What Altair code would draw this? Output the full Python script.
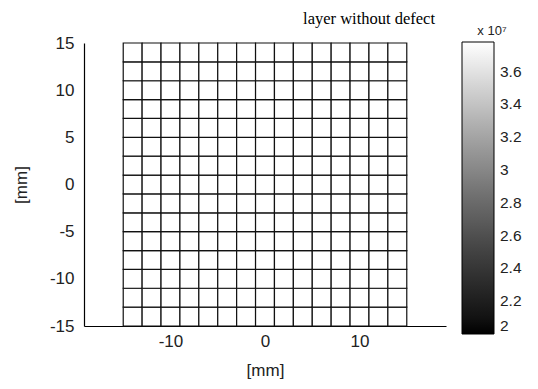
import altair as alt
import pandas as pd

# grid edges [mm]
x_edges = [-15, -13, -11, -9, -7, -5, -3, -1, 1, 3, 5, 7, 9, 11, 13, 15]
y_edges = [-15, -13, -11, -9, -7, -5, -3, -1, 1, 3, 5, 7, 9, 11, 13, 15]
cell_value = 3.78e7          # uniform layer (no defect)
x_ticks = [-10, 0, 10]
y_ticks = [-15, -10, -5, 0, 5, 10, 15]
cbar_ticks = [2.0e7, 2.2e7, 2.4e7, 2.6e7, 2.8e7, 3.0e7, 3.2e7, 3.4e7, 3.6e7]
cbar_min, cbar_max = 2.0e7, 3.78e7

rows = []
for i in range(len(x_edges) - 1):
    for j in range(len(y_edges) - 1):
        rows.append({"x0": x_edges[i], "x1": x_edges[i + 1],
                     "y0": y_edges[j], "y1": y_edges[j + 1],
                     "v": cell_value})
df = pd.DataFrame(rows)

hyphen = "datum.value < 0 ? '-' + abs(datum.value) : '' + datum.value"

W, H = 362, 283
chart = alt.Chart(df).mark_rect(stroke="#111111", strokeWidth=1.2).encode(
    x=alt.X("x0:Q", scale=alt.Scale(domain=[-19.15, 19.15], nice=False, zero=False),
            axis=alt.Axis(values=x_ticks, title="[mm]", grid=False, ticks=False,
                          labelExpr=hyphen, labelPadding=7, titlePadding=13)),
    x2="x1:Q",
    y=alt.Y("y0:Q", scale=alt.Scale(domain=[-15, 15], nice=False, zero=False),
            axis=alt.Axis(values=y_ticks, title="[mm]", grid=False, ticks=False,
                          labelExpr=hyphen, labelPadding=10, titlePadding=19)),
    y2="y1:Q",
    color=alt.Color("v:Q",
                    scale=alt.Scale(domain=[cbar_min, cbar_max], range=["black", "white"]),
                    legend=alt.Legend(orient="none", legendX=378, legendY=-18,
                                      direction="vertical", title="x 10⁷",
                                      values=cbar_ticks,
                                      labelExpr="format(datum.value/1e7, '.2~f')",
                                      gradientLength=292, gradientThickness=32,
                                      gradientStrokeColor="black", gradientStrokeWidth=1,
                                      labelOverlap=False, labelBaseline="middle",
                                      labelFontSize=15.5, labelFont="Liberation Sans",
                                      labelColor="#222", labelOffset=6,
                                      titleFont="Liberation Sans", titleFontSize=13,
                                      titleFontWeight="normal", titleColor="#222",
                                      titleAnchor="middle", titlePadding=4)),
).properties(
    width=W, height=H,
    title=alt.TitleParams("layer without defect", anchor="end", frame="group", dx=-11,
                          dy=2, font="Liberation Serif", fontSize=16.5,
                          fontWeight="normal", color="black", offset=0),
    autosize=alt.AutoSizeParams(type="none"),
    padding={"left": 76, "top": 35, "right": 84, "bottom": 58},
).configure_view(stroke=None).configure_axis(
    domainColor="black", domainWidth=1.2,
    labelFont="Liberation Sans", labelFontSize=17, labelColor="#222",
    titleFont="Liberation Sans", titleFontSize=17, titleFontWeight="normal",
    titleColor="#222",
)

chart.save("out.html", embed_options={"renderer": "svg", "actions": False})
